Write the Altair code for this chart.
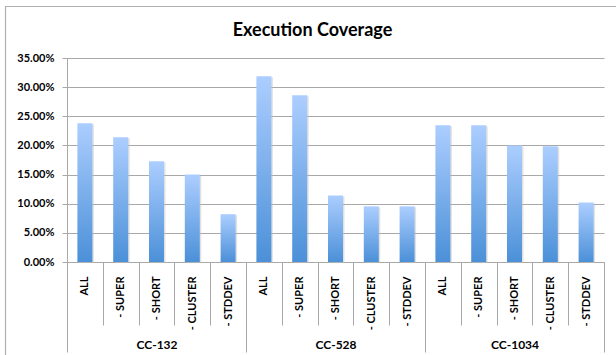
import altair as alt
import pandas as pd

# Execution coverage per configuration, grouped by test suite
groups = ["CC-132", "CC-528", "CC-1034"]
variants = ["ALL", "- SUPER", "- SHORT", "- CLUSTER", "- STDDEV"]
coverage = {
    "CC-132": [0.2380, 0.2140, 0.1730, 0.1500, 0.0820],
    "CC-528": [0.3185, 0.2860, 0.1140, 0.0955, 0.0955],
    "CC-1034": [0.2345, 0.2345, 0.1997, 0.1985, 0.1020],
}
y_ticks = [0.0, 0.05, 0.10, 0.15, 0.20, 0.25, 0.30, 0.35]

rows = []
for g in groups:
    for v, val in zip(variants, coverage[g]):
        rows.append({"group": g, "variant": v, "key": f"{g}|{v}", "value": val})
df = pd.DataFrame(rows)
group_df = pd.DataFrame({"group": groups})
frame_df = pd.DataFrame({"frame": [1]})

FONT = "Lato"
GRID = "#a8a8a8"

bar_fill = alt.LinearGradient(
    gradient="linear",
    stops=[
        alt.GradientStop(color="#acceff", offset=0),
        alt.GradientStop(color="#4b90d8", offset=1),
    ],
    x1=0, x2=0, y1=0, y2=1,
)

x_cat = alt.X(
    "key:N",
    sort=None,
    scale=alt.Scale(paddingInner=0, paddingOuter=0),
    axis=alt.Axis(
        title=None,
        orient="bottom",
        labelExpr="split(datum.label, '|')[1]",
        labelAngle=270,
        labelAlign="right",
        labelBaseline="middle",
        labelPadding=-49,
        labelFont=FONT,
        labelFontWeight="bold",
        labelFontSize=11,
        labelColor="#000000",
        labelOverlap=False,
        labelFlush=False,
        labelBound=False,
        tickBand="extent",
        tickSize=63,
        tickColor=GRID,
        tickWidth=1,
        domainColor=GRID,
        domainWidth=1,
    ),
)

y_val = alt.Y(
    "value:Q",
    scale=alt.Scale(domain=[0, 0.35], nice=False, zero=True),
    axis=alt.Axis(
        title=None,
        values=y_ticks,
        format=".2%",
        labelFont=FONT,
        labelFontWeight="bold",
        labelFontSize=11,
        labelColor="#000000",
        labelPadding=8,
        tickSize=5,
        tickColor=GRID,
        domainColor=GRID,
        gridColor=GRID,
        gridWidth=1,
    ),
)

# outer chart frame (outline only)
frame = alt.Chart(frame_df).mark_rect(
    fillOpacity=0, stroke="#b0b0b0", strokeWidth=1.2, clip=False
).encode(
    x=alt.value(-61.5), x2=alt.value(700),
    y=alt.value(-51.5), y2=alt.value(400),
)

shadow = alt.Chart(df).mark_bar(
    size=15, color="#bdbdbd", opacity=0.45, xOffset=1.5, yOffset=1
).encode(x=x_cat, y=y_val)

bars = alt.Chart(df).mark_bar(size=15, color=bar_fill).encode(x=x_cat, y=y_val)

inner = alt.layer(frame, shadow, bars)

# second-level axis for the suite names
group_axis = alt.Chart(group_df).mark_rule(opacity=0).encode(
    x=alt.X(
        "group:N",
        sort=None,
        scale=alt.Scale(paddingInner=0, paddingOuter=0),
        axis=alt.Axis(
            title=None,
            orient="bottom",
            labelAngle=0,
            labelAlign="center",
            labelBaseline="middle",
            labelPadding=-8,
            labelFont=FONT,
            labelFontWeight="bold",
            labelFontSize=12,
            labelColor="#000000",
            labelFlush=False,
            labelBound=False,
            tickBand="extent",
            tickSize=90,
            tickColor=GRID,
            tickWidth=1,
            domain=False,
        ),
    )
)

chart = alt.layer(inner, group_axis).resolve_scale(x="independent").properties(
    width=537,
    height=204,
    autosize=alt.AutoSizeParams(type="none"),
    padding={"left": 67, "top": 58, "right": 12, "bottom": 93},
    background="white",
    title=alt.TitleParams(
        "Execution Coverage",
        font=FONT,
        fontSize=18,
        fontWeight="bold",
        color="#000000",
        anchor="middle",
        frame="group",
        dx=-23,
        dy=51.5,
        offset=17,
    ),
).configure_view(stroke=None)

chart.save("out.html", embed_options={"renderer": "svg", "actions": False})
